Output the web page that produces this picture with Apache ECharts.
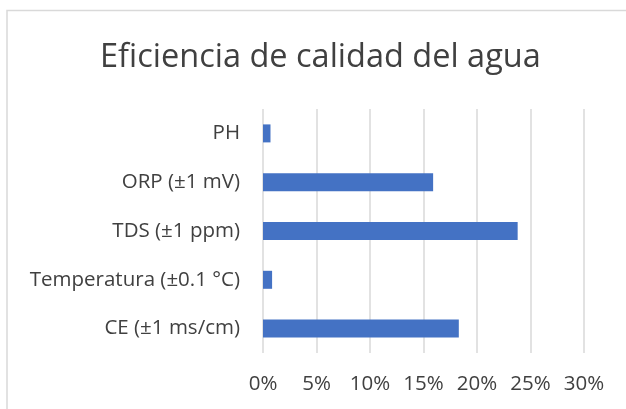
<!DOCTYPE html>
<html>
<head>
<meta charset="utf-8">
<script src="https://cdn.jsdelivr.net/npm/echarts@6/dist/echarts.min.js"></script>
<style>
  html, body { margin: 0; padding: 0; background: #fff; }
  #chart { width: 626px; height: 409px; }
</style>
</head>
<body>
<div id="chart"></div>
<script>
// categorías (de arriba a abajo)
var categories = ['PH', 'ORP (±1 mV)', 'TDS (±1 ppm)', 'Temperatura (±0.1 °C)', 'CE (±1 ms/cm)']
// eficiencia en %
var eficiencia = [0.7, 15.9, 23.8, 0.85, 18.3]
// ticks del eje x
var xTicks = [0, 5, 10, 15, 20, 25, 30]

var chart = echarts.init(document.getElementById('chart'))
var font = '"Open Sans", sans-serif'

var option = {
  animation: false,
  backgroundColor: '#fff',
  title: {
    text: 'Eficiencia de calidad del agua',
    left: 100,
    top: 41,
    padding: 0,
    textStyle: {
      fontFamily: font,
      fontSize: 32.5,
      fontWeight: 'normal',
      color: '#404040'
    }
  },
  graphic: [
    {
      // borde del área del gráfico
      type: 'polyline',
      shape: { points: [[7, 409], [7, 10.5], [626, 10.5]] },
      style: { stroke: '#d9d9d9', lineWidth: 1.5, fill: null },
      silent: true
    }
  ],
  grid: {
    left: 263,
    right: 42,
    top: 109,
    bottom: 56
  },
  xAxis: {
    type: 'value',
    min: xTicks[0],
    max: xTicks[xTicks.length - 1],
    interval: 5,
    axisLine: { show: false },
    axisTick: { show: false },
    splitLine: {
      lineStyle: { color: '#d9d9d9', width: 1.5 }
    },
    axisLabel: {
      formatter: '{value}%',
      margin: 21,
      fontFamily: font,
      fontSize: 20.5,
      color: '#404040'
    }
  },
  yAxis: {
    type: 'category',
    data: categories,
    inverse: true,
    axisLine: { show: false },
    axisTick: { show: false },
    axisLabel: {
      margin: 23,
      padding: [5, 0, 0, 0],
      fontFamily: font,
      fontSize: 20.5,
      color: '#404040'
    }
  },
  series: [
    {
      type: 'bar',
      data: eficiencia,
      barWidth: 18,
      itemStyle: { color: '#4472C4' }
    }
  ]
}

chart.setOption(option)
</script>
</body>
</html>
